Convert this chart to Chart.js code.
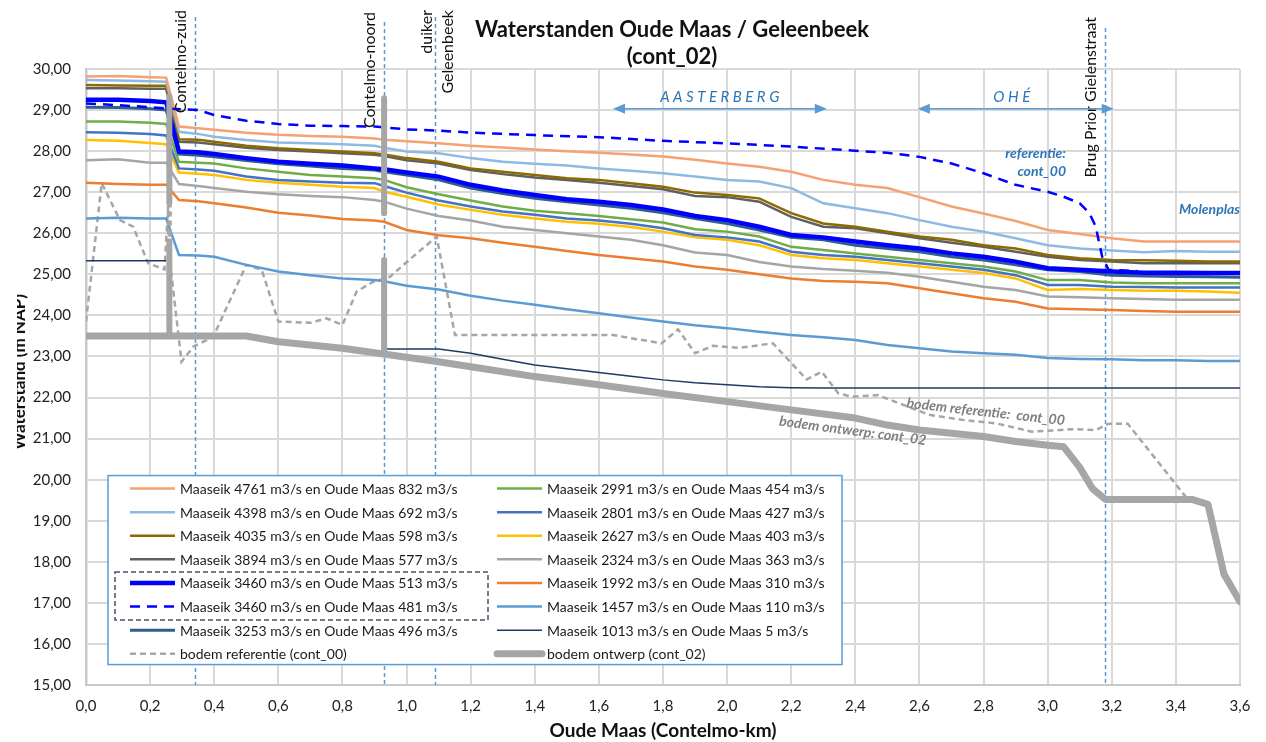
<!DOCTYPE html>
<html>
<head>
<meta charset="utf-8">
<script src="https://cdn.jsdelivr.net/npm/chart.js@4.4.1/dist/chart.umd.min.js"></script>
<style>
  html, body { margin: 0; padding: 0; background: #fff; }
</style>
</head>
<body>
<canvas id="chart" width="1266" height="742"></canvas>
<script>
const FONT = 'Lato, "DejaVu Sans", sans-serif';
Chart.defaults.font.family = FONT;

// km along the Oude Maas where the water levels were read
const km = [0, 0.1, 0.2, 0.25, 0.29, 0.35, 0.4, 0.5, 0.6, 0.7,
            0.8, 0.9, 0.93, 1.0, 1.1, 1.2, 1.3, 1.4, 1.5, 1.6,
            1.7, 1.8, 1.9, 2.0, 2.1, 2.2, 2.3, 2.4, 2.5, 2.6,
            2.7, 2.8, 2.9, 3.0, 3.1, 3.2, 3.3, 3.4, 3.5, 3.6];

const q4761 = [29.82, 29.83, 29.80, 29.79, 28.60, 28.56, 28.52, 28.45, 28.40, 28.37,
               28.35, 28.31, 28.28, 28.24, 28.19, 28.13, 28.09, 28.04, 28.00, 27.96,
               27.92, 27.87, 27.79, 27.70, 27.62, 27.50, 27.30, 27.18, 27.10, 26.88,
               26.65, 26.48, 26.30, 26.08, 25.98, 25.88, 25.80, 25.80, 25.80, 25.80];
const q4398 = [29.73, 29.72, 29.70, 29.69, 28.47, 28.42, 28.35, 28.27, 28.21, 28.19,
               28.17, 28.13, 28.08, 27.99, 27.95, 27.83, 27.74, 27.69, 27.65, 27.58,
               27.52, 27.46, 27.38, 27.30, 27.26, 27.10, 26.73, 26.61, 26.49, 26.32,
               26.16, 26.04, 25.88, 25.71, 25.63, 25.58, 25.54, 25.57, 25.55, 25.55];
const q4035 = [29.61, 29.60, 29.59, 29.59, 28.29, 28.28, 28.23, 28.13, 28.07, 28.03,
               27.99, 27.95, 27.92, 27.83, 27.74, 27.58, 27.50, 27.42, 27.34, 27.30,
               27.22, 27.13, 26.99, 26.93, 26.85, 26.49, 26.24, 26.16, 26.04, 25.92,
               25.84, 25.71, 25.63, 25.47, 25.39, 25.35, 25.34, 25.33, 25.31, 25.31];
const q3894 = [29.53, 29.53, 29.52, 29.52, 28.23, 28.21, 28.17, 28.08, 28.03, 27.99,
               27.95, 27.91, 27.88, 27.78, 27.70, 27.54, 27.44, 27.36, 27.30, 27.23,
               27.15, 27.07, 26.91, 26.88, 26.77, 26.40, 26.16, 26.12, 26.00, 25.88,
               25.77, 25.67, 25.55, 25.43, 25.35, 25.31, 25.27, 25.27, 25.27, 25.27];
const q3460 = [29.25, 29.25, 29.22, 29.19, 27.99, 27.97, 27.93, 27.83, 27.74, 27.69,
               27.65, 27.58, 27.56, 27.48, 27.38, 27.18, 27.04, 26.93, 26.83, 26.77,
               26.69, 26.58, 26.42, 26.32, 26.16, 25.96, 25.90, 25.80, 25.71, 25.63,
               25.51, 25.43, 25.31, 25.15, 25.11, 25.07, 25.04, 25.04, 25.03, 25.03];
const q3253 = [29.07, 29.06, 29.03, 29.00, 27.93, 27.90, 27.86, 27.77, 27.69, 27.64,
               27.58, 27.54, 27.50, 27.42, 27.30, 27.10, 26.97, 26.85, 26.77, 26.69,
               26.61, 26.50, 26.36, 26.24, 26.08, 25.90, 25.84, 25.71, 25.63, 25.55,
               25.43, 25.35, 25.23, 25.11, 25.07, 24.98, 24.96, 24.95, 24.94, 24.93];
const q2991 = [28.72, 28.72, 28.69, 28.66, 27.74, 27.72, 27.70, 27.58, 27.50, 27.42,
               27.38, 27.34, 27.30, 27.12, 26.95, 26.80, 26.65, 26.55, 26.49, 26.42,
               26.34, 26.26, 26.10, 26.04, 25.92, 25.67, 25.59, 25.51, 25.43, 25.35,
               25.27, 25.19, 25.07, 24.86, 24.86, 24.80, 24.78, 24.78, 24.78, 24.78];
const q2801 = [28.46, 28.45, 28.42, 28.38, 27.58, 27.55, 27.52, 27.38, 27.30, 27.26,
               27.23, 27.22, 27.15, 26.99, 26.80, 26.65, 26.53, 26.45, 26.36, 26.31,
               26.23, 26.12, 25.96, 25.90, 25.80, 25.55, 25.47, 25.43, 25.35, 25.27,
               25.19, 25.11, 24.98, 24.74, 24.74, 24.70, 24.69, 24.68, 24.68, 24.68];
const q2627 = [28.27, 28.25, 28.20, 28.17, 27.48, 27.45, 27.42, 27.30, 27.23, 27.18,
               27.13, 27.10, 27.01, 26.89, 26.70, 26.57, 26.45, 26.36, 26.28, 26.23,
               26.15, 26.04, 25.90, 25.84, 25.71, 25.47, 25.39, 25.35, 25.27, 25.19,
               25.11, 25.03, 24.90, 24.62, 24.64, 24.62, 24.60, 24.60, 24.58, 24.55];
const q2324 = [27.78, 27.80, 27.72, 27.72, 27.20, 27.15, 27.10, 27.01, 26.95, 26.91,
               26.88, 26.81, 26.77, 26.60, 26.42, 26.31, 26.16, 26.08, 26.00, 25.92,
               25.84, 25.71, 25.53, 25.47, 25.30, 25.19, 25.13, 25.09, 25.04, 24.94,
               24.82, 24.70, 24.62, 24.46, 24.44, 24.42, 24.40, 24.38, 24.38, 24.38];
const q1992 = [27.23, 27.20, 27.18, 27.18, 26.81, 26.78, 26.73, 26.63, 26.50, 26.43,
               26.35, 26.31, 26.28, 26.08, 25.95, 25.88, 25.77, 25.67, 25.57, 25.47,
               25.39, 25.31, 25.19, 25.11, 25.00, 24.90, 24.84, 24.82, 24.78, 24.66,
               24.54, 24.42, 24.33, 24.17, 24.15, 24.13, 24.11, 24.09, 24.09, 24.09];
const q1457 = [26.36, 26.38, 26.36, 26.36, 25.47, 25.46, 25.43, 25.23, 25.07, 24.98,
               24.90, 24.86, 24.83, 24.72, 24.63, 24.48, 24.36, 24.26, 24.15, 24.05,
               23.95, 23.85, 23.76, 23.69, 23.60, 23.52, 23.47, 23.40, 23.28, 23.20,
               23.12, 23.08, 23.04, 22.96, 22.94, 22.93, 22.91, 22.91, 22.89, 22.89];
const q1013 = [25.33, 25.33, 25.33, 25.33, null, null, null, null, null, null,
               null, null, 23.18, 23.18, 23.18, 23.08, 22.93, 22.79, 22.70, 22.61,
               22.52, 22.43, 22.36, 22.31, 22.26, 22.24, 22.23, 22.23, 22.23, 22.23,
               22.23, 22.23, 22.23, 22.23, 22.23, 22.23, 22.23, 22.23, 22.23, 22.23];

// reference situation (cont_00), 3460 / 481 m3/s
const refKm  = [0, 0.1, 0.2, 0.25, 0.35, 0.4, 0.5, 0.6, 0.7, 0.8, 0.9, 1.0, 1.1, 1.2, 1.4, 1.6, 1.8,
                2.0, 2.2, 2.4, 2.5, 2.6, 2.7, 2.8, 2.9, 3.0, 3.05, 3.1, 3.13, 3.15, 3.17, 3.19, 3.28];
const ref481 = [29.16, 29.12, 29.07, 29.04, 29.00, 28.88, 28.74, 28.66, 28.62, 28.61, 28.60, 28.53, 28.50, 28.45, 28.39, 28.34, 28.25,
                28.19, 28.11, 28.01, 27.96, 27.86, 27.70, 27.46, 27.18, 27.01, 26.89, 26.73, 26.49, 26.16, 25.43, 25.11, 25.08];

// bed levels
const bodemKm = [0, 0.26, 0.5, 0.6, 0.7, 0.8, 0.9, 1.0, 1.1, 1.2, 1.4, 1.6, 1.8, 2.0, 2.2,
                 2.4, 2.5, 2.6, 2.7, 2.8, 2.9, 3.0, 3.05, 3.1, 3.14, 3.18, 3.45, 3.5, 3.55, 3.6];
const bodemOntwerp = [23.50, 23.50, 23.50, 23.36, 23.28, 23.20, 23.09, 22.98, 22.87, 22.75, 22.51, 22.31, 22.10, 21.90, 21.70,
                      21.50, 21.33, 21.21, 21.13, 21.05, 20.93, 20.84, 20.80, 20.30, 19.78, 19.52, 19.52, 19.40, 17.70, 17.03];
const bodemRefKm = [0, 0.049, 0.106, 0.147, 0.194, 0.245, 0.258, 0.262, 0.298, 0.335, 0.397, 0.5, 0.548, 0.6, 0.7, 0.75,
                    0.8, 0.844, 0.896, 0.948, 1.02, 1.094, 1.151, 1.644, 1.796, 1.847, 1.9, 1.956, 2.04, 2.143, 2.248, 2.295,
                    2.347, 2.39, 2.47, 2.55, 2.63, 2.74, 2.84, 2.95, 3.04, 3.08, 3.15, 3.19, 3.25, 3.43, 3.45];
const bodemRef = [23.85, 27.22, 26.32, 26.16, 25.27, 25.12, 26.90, 25.30, 22.87, 23.24, 23.48, 25.23, 25.11, 23.85, 23.82, 23.93,
                  23.77, 24.58, 24.82, 24.94, 25.43, 25.92, 23.52, 23.52, 23.32, 23.66, 23.08, 23.26, 23.21, 23.32, 22.44, 22.63,
                  22.10, 22.02, 22.06, 21.82, 21.58, 21.45, 21.37, 21.17, 21.21, 21.23, 21.21, 21.36, 21.36, 19.59, 19.52];

// weirs Contelmo-zuid / Contelmo-noord
const stuwKm   = [0.26, 0.26, 0.26, 0.26, 0.26, 0.93, 0.93, 0.93, 0.93, 0.93, 0.93];
const stuwPeil = [29.33, 26.75, null, 25.78, 23.50, null, 29.29, 26.49, null, 25.35, 23.12];
const stuwRefKm = [0.26, 0.26];
const stuwRefPeil = [26.75, 25.78];

// structures (dotted lines) and axis ticks
const markerKm = [0.34, 0.93, 1.09, 3.18];
const xMin = 0, xMax = 3.6, xStep = 0.2;
const yMin = 15, yMax = 30, yStep = 1;

function pts(xs, ys) {
  return xs.map((x, i) => ({ x: x, y: ys[i] }));
}

function serie(label, xs, ys, color, width, extra) {
  return Object.assign({
    label: label,
    data: pts(xs, ys),
    borderColor: color,
    backgroundColor: color,
    borderWidth: width,
    pointRadius: 0,
    fill: false,
    tension: 0,
    order: 5
  }, extra || {});
}

const datasets = [
  serie('Maaseik 4761 m3/s en Oude Maas 832 m3/s', km, q4761, '#F4A270', 2.5),
  serie('Maaseik 4398 m3/s en Oude Maas 692 m3/s', km, q4398, '#8DB9E2', 2.5),
  serie('Maaseik 4035 m3/s en Oude Maas 598 m3/s', km, q4035, '#8C6A00', 2.5),
  serie('Maaseik 3894 m3/s en Oude Maas 577 m3/s', km, q3894, '#606060', 2.5),
  serie('Maaseik 3460 m3/s en Oude Maas 513 m3/s', km, q3460, '#0000FF', 4.5, { order: 2 }),
  serie('Maaseik 3460 m3/s en Oude Maas 481 m3/s', refKm, ref481, '#0000FF', 2.5, { borderDash: [10, 7], order: 3 }),
  serie('Maaseik 3253 m3/s en Oude Maas 496 m3/s', km, q3253, '#2F5F8F', 3, { order: 4 }),
  serie('bodem referentie (cont_00)', bodemRefKm, bodemRef, '#A6A6A6', 2.5, { borderDash: [6, 4], order: 6 }),
  serie('Maaseik 2991 m3/s en Oude Maas 454 m3/s', km, q2991, '#70AD47', 2.5),
  serie('Maaseik 2801 m3/s en Oude Maas 427 m3/s', km, q2801, '#4472C4', 2.5),
  serie('Maaseik 2627 m3/s en Oude Maas 403 m3/s', km, q2627, '#FFC000', 2.5),
  serie('Maaseik 2324 m3/s en Oude Maas 363 m3/s', km, q2324, '#A5A5A5', 2.5),
  serie('Maaseik 1992 m3/s en Oude Maas 310 m3/s', km, q1992, '#ED7D31', 2.5),
  serie('Maaseik 1457 m3/s en Oude Maas 110 m3/s', km, q1457, '#5B9BD5', 2.5),
  serie('Maaseik 1013 m3/s en Oude Maas 5 m3/s', km, q1013, '#1F3864', 1.5),
  serie('bodem ontwerp (cont_02)', bodemKm, bodemOntwerp, '#A6A6A6', 7,
        { borderCapStyle: 'round', borderJoinStyle: 'round', order: 1 }),
  serie('stuwen', stuwKm, stuwPeil, '#A6A6A6', 6, { borderCapStyle: 'round', order: 0 }),
  serie('stuw referentie', stuwRefKm, stuwRefPeil, '#A6A6A6', 5, { borderDash: [5, 4], order: 0 })
];
const legendCount = 16;

function rotText(ctx, text, px, py, angle, align, font, color, baseline) {
  ctx.save();
  ctx.translate(px, py);
  ctx.rotate(angle);
  ctx.font = font;
  ctx.fillStyle = color;
  ctx.textAlign = align;
  ctx.textBaseline = baseline || 'middle';
  ctx.fillText(text, 0, 0);
  ctx.restore();
}

function arrow(ctx, x1, x2, y) {
  ctx.beginPath();
  ctx.moveTo(x1 + 6, y);
  ctx.lineTo(x2 - 6, y);
  ctx.stroke();
  ctx.beginPath();
  ctx.moveTo(x1, y); ctx.lineTo(x1 + 12, y - 5); ctx.lineTo(x1 + 12, y + 5); ctx.closePath();
  ctx.moveTo(x2, y); ctx.lineTo(x2 - 12, y - 5); ctx.lineTo(x2 - 12, y + 5); ctx.closePath();
  ctx.fill();
}

const decor = {
  id: 'decor',
  beforeDatasetsDraw(chart) {
    const { ctx, scales: { x }, chartArea: a } = chart;
    const tops = [17, 22, 17, 28];
    ctx.save();
    ctx.strokeStyle = '#5B9BD5';
    ctx.lineWidth = 1.5;
    ctx.setLineDash([4, 3]);
    markerKm.forEach((m, i) => {
      const px = Math.round(x.getPixelForValue(m)) + 0.5;
      ctx.beginPath();
      ctx.moveTo(px, tops[i]);
      ctx.lineTo(px, a.bottom);
      ctx.stroke();
    });
    ctx.restore();
  },
  afterDatasetsDraw(chart) {
    const { ctx, scales: { x, y }, chartArea: a } = chart;
    ctx.save();

    // title
    ctx.fillStyle = '#111';
    ctx.font = 'bold 22px ' + FONT;
    ctx.textAlign = 'center';
    ctx.textBaseline = 'middle';
    ctx.fillText('Waterstanden Oude Maas / Geleenbeek', 672, 30);
    ctx.fillText('(cont_02)', 672, 57);

    // axis titles
    ctx.font = 'bold 19px ' + FONT;
    ctx.fillText('Oude Maas (Contelmo-km)', (a.left + a.right) / 2, 731);
    ctx.save();
    ctx.beginPath();
    ctx.rect(17, 0, 40, 742);
    ctx.clip();
    rotText(ctx, 'Waterstand (m NAP)', 25, 372, -Math.PI / 2, 'center', 'bold 17px ' + FONT, '#111', 'alphabetic');
    ctx.restore();

    // structure labels
    const vf = '16px ' + FONT;
    const mx = markerKm.map(m => x.getPixelForValue(m));
    rotText(ctx, 'Contelmo-zuid', mx[0] - 14, 10, -Math.PI / 2, 'right', vf, '#111');
    rotText(ctx, 'Contelmo-noord', mx[1] - 14, 12, -Math.PI / 2, 'right', vf, '#111');
    rotText(ctx, 'duiker', mx[2] - 9, 10, -Math.PI / 2, 'right', vf, '#111');
    rotText(ctx, 'Geleenbeek', mx[2] + 12, 10, -Math.PI / 2, 'right', vf, '#111');
    rotText(ctx, 'Brug Prior Gielenstraat', mx[3] - 15, 17, -Math.PI / 2, 'right', vf, '#111');

    // river stretches
    const ay = y.getPixelForValue(29.03);
    ctx.strokeStyle = '#5B9BD5';
    ctx.fillStyle = '#5B9BD5';
    ctx.lineWidth = 1.5;
    arrow(ctx, x.getPixelForValue(1.644), x.getPixelForValue(2.311), ay);
    arrow(ctx, x.getPixelForValue(2.595), x.getPixelForValue(3.206), ay);
    ctx.fillStyle = '#2E75B6';
    ctx.font = 'italic 15px ' + FONT;
    ctx.textAlign = 'center';
    ctx.fillText('A A S T E R B E R G', x.getPixelForValue(1.977), ay - 12);
    ctx.fillText('O H É', x.getPixelForValue(2.888), ay - 12);

    // blue notes
    ctx.font = 'italic bold 14px ' + FONT;
    ctx.textAlign = 'right';
    ctx.fillText('referentie:', 1066, 153);
    ctx.fillText('cont_00', 1066, 171);
    ctx.fillText('Molenplas', a.right, 209);

    // bed labels
    const gf = 'italic bold 14px ' + FONT;
    rotText(ctx, 'bodem ontwerp: cont_02', x.getPixelForValue(2.392), y.getPixelForValue(21.19),
            7.5 * Math.PI / 180, 'center', gf, '#7F7F7F');
    rotText(ctx, 'bodem referentie:  cont_00', x.getPixelForValue(2.807), y.getPixelForValue(21.65),
            6.4 * Math.PI / 180, 'center', gf, '#7F7F7F');

    // legend box
    const lx = a.left + 22, ly = y.getPixelForValue(20.1), lw = 734, lh = 189;
    ctx.fillStyle = '#fff';
    ctx.fillRect(lx, ly, lw, lh);
    ctx.strokeStyle = '#5B9BD5';
    ctx.lineWidth = 1.5;
    ctx.strokeRect(lx, ly, lw, lh);

    const rowY0 = ly + 13, rowDy = 23.6;
    const colX = [lx + 22, lx + 389];
    ctx.font = '14px ' + FONT;
    ctx.textAlign = 'left';
    ctx.textBaseline = 'middle';
    chart.data.datasets.slice(0, legendCount).forEach((ds, i) => {
      const col = Math.floor(i / 8), row = i % 8;
      const sx = colX[col], sy = rowY0 + row * rowDy;
      ctx.save();
      ctx.strokeStyle = ds.borderColor;
      ctx.lineWidth = Math.min(ds.borderWidth, 8);
      ctx.setLineDash(ds.borderDash || []);
      ctx.lineCap = ds.borderCapStyle || 'butt';
      ctx.beginPath();
      ctx.moveTo(sx, sy);
      ctx.lineTo(sx + 45, sy);
      ctx.stroke();
      ctx.restore();
      ctx.fillStyle = '#1a1a1a';
      ctx.fillText(ds.label, sx + 50, sy + 1);
    });

    // dashed frame around the two 3460 m3/s runs
    ctx.strokeStyle = '#44546A';
    ctx.lineWidth = 1.5;
    ctx.setLineDash([5, 3]);
    ctx.strokeRect(lx + 7, rowY0 + 4 * rowDy - 11, 373, 48);
    ctx.restore();
  }
};

new Chart(document.getElementById('chart').getContext('2d'), {
  type: 'line',
  data: { datasets: datasets },
  options: {
    responsive: false,
    animation: false,
    events: [],
    layout: { padding: { top: 69, right: 26, left: 0, bottom: 0 } },
    plugins: {
      legend: { display: false },
      title: { display: false },
      tooltip: { enabled: false }
    },
    scales: {
      x: {
        type: 'linear',
        min: xMin,
        max: xMax,
        afterFit: s => { s.height = 57; },
        ticks: {
          stepSize: xStep,
          autoSkip: false,
          maxRotation: 0,
          padding: 12,
          color: '#222',
          font: { size: 15 },
          callback: v => v.toFixed(1).replace('.', ',')
        },
        grid: { color: '#d9d9d9', lineWidth: 2, drawTicks: false },
        border: { color: '#c8c8c8', width: 2 }
      },
      y: {
        min: yMin,
        max: yMax,
        afterFit: s => { s.width = 86; },
        ticks: {
          stepSize: yStep,
          padding: 15,
          color: '#222',
          font: { size: 15 },
          callback: v => v.toFixed(2).replace('.', ',')
        },
        grid: { color: '#d9d9d9', lineWidth: 2, drawTicks: false },
        border: { color: '#c8c8c8', width: 2.5 }
      }
    }
  },
  plugins: [decor]
});
</script>
</body>
</html>
